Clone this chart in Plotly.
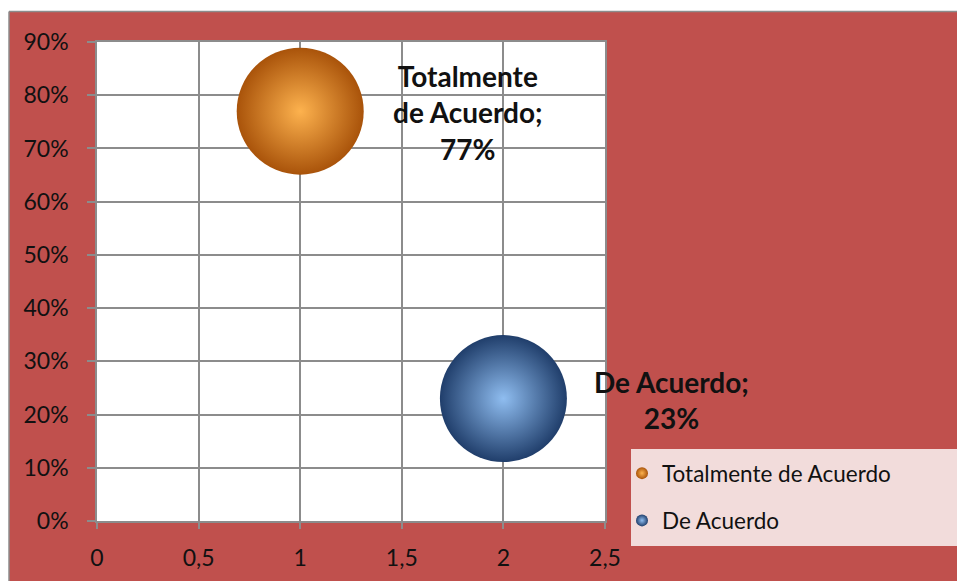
import plotly.graph_objects as go

# ---- data ----
series_names = ["Totalmente de Acuerdo", "De Acuerdo"]
x_values = [1, 2]
y_values = [0.77, 0.23]
label_texts = ["Totalmente<br>de Acuerdo;<br>77%", "De Acuerdo;<br>23%"]
center_colors = ["#FDB24E", "#8FBDF0"]
edge_colors = ["#A9530A", "#203E6B"]

W, H = 957, 581
L, R, T, B = 97, 352, 42, 60
pw, ph = W - L - R, H - T - B

def px_x(p):
    return (p - L) / pw

def px_y(p):
    return (H - B - p) / ph

fig = go.Figure()
for i, name in enumerate(series_names):
    fig.add_trace(go.Scatter(
        x=[x_values[i]], y=[y_values[i]], mode="markers", name=name,
        legendgroup=name,
        marker=dict(size=127, color=edge_colors[i],
                    gradient=dict(type="radial", color=center_colors[i]),
                    line=dict(width=0)),
        hoverinfo="skip",
    ))
    fig.add_annotation(
        x=x_values[i], y=y_values[i], xref="x", yref="y", text=label_texts[i],
        showarrow=False, xshift=168, yshift=-1,
        font=dict(family="Lato", size=28, color="#111111", weight="bold"),
        align="center",
    )

grey = "#8C8C8C"
shapes = [
    dict(type="rect", xref="paper", yref="paper", x0=-0.3, x1=2, y0=px_y(12), y1=1.3,
         fillcolor="white", line=dict(width=0), layer="below"),
    dict(type="rect", xref="paper", yref="paper", x0=-0.3, x1=px_x(9), y0=-0.3, y1=1.3,
         fillcolor="white", line=dict(width=0), layer="below"),
    dict(type="line", xref="paper", yref="paper", x0=px_x(9), x1=2, y0=px_y(11.5), y1=px_y(11.5),
         line=dict(color=grey, width=1.5), layer="below"),
    dict(type="line", xref="paper", yref="paper", x0=px_x(9), x1=px_x(9), y0=-0.3, y1=px_y(11.5),
         line=dict(color=grey, width=1.5), layer="below"),
    dict(type="rect", xref="paper", yref="paper", x0=px_x(631), x1=px_x(960),
         y0=px_y(546), y1=px_y(449), fillcolor="#F2DCDB", line=dict(width=0), layer="below"),
]

fig.update_layout(
    width=W, height=H, autosize=False,
    margin=dict(l=L, r=R, t=T, b=B, autoexpand=False),
    paper_bgcolor="#C0504D", plot_bgcolor="white",
    separators=",.",
    shapes=shapes,
    showlegend=True,
    legend=dict(x=px_x(622), y=px_y(452), xanchor="left", yanchor="top",
                bgcolor="rgba(0,0,0,0)", font=dict(family="Lato", size=22.5, color="#111111"),
                traceorder="grouped", tracegroupgap=15, itemsizing="constant"),
    xaxis=dict(range=[0, 2.5], dtick=0.5, tick0=0, showgrid=True, gridcolor=grey, gridwidth=1.5,
               showline=True, linecolor=grey, linewidth=1.5, mirror=True,
               ticks="outside", ticklen=6, tickcolor=grey, tickwidth=1.5,
               ticklabelstandoff=10, zeroline=False, automargin=False,
               tickfont=dict(family="Lato", size=23, color="#111111")),
    yaxis=dict(range=[0, 0.9], dtick=0.1, tick0=0, tickformat=".0%", showgrid=True,
               gridcolor=grey, gridwidth=1.5,
               showline=True, linecolor=grey, linewidth=1.5, mirror=True,
               ticks="outside", ticklen=8, tickcolor=grey, tickwidth=1.5,
               ticklabelstandoff=14, zeroline=False, automargin=False,
               tickfont=dict(family="Lato", size=23, color="#111111")),
)

fig.write_html("out.html")
